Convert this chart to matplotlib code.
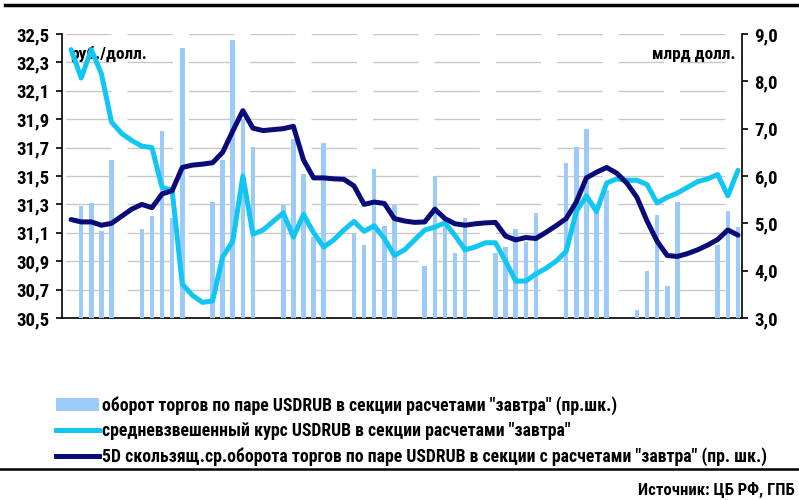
import numpy as np
import pandas as pd
import matplotlib
matplotlib.use("Agg")
from matplotlib import pyplot as plt
from matplotlib.lines import Line2D
from matplotlib.patches import Patch

plt.rcParams['font.family'] = ['Roboto Condensed', 'DejaVu Sans']
plt.rcParams['font.weight'] = 'bold'
plt.rcParams['lines.scale_dashes'] = False

START = "2012-09-03"

# средневзвешенный курс (руб./долл.), каждый день 03.09 - 08.11
line_dates = pd.date_range(START, "2012-11-08")
rate = [32.39, 32.19, 32.39, 32.22, 31.88, 31.80, 31.75, 31.71, 31.70, 31.42,
        31.40, 30.74, 30.66, 30.61, 30.62, 30.93, 31.04, 31.50, 31.09, 31.12,
        31.18, 31.24, 31.07, 31.23, 31.10, 31.00, 31.05, 31.12, 31.18, 31.11,
        31.15, 31.06, 30.94, 30.98, 31.05, 31.12, 31.14, 31.17, 31.08, 30.98,
        31.00, 31.03, 31.03, 30.90, 30.76, 30.76, 30.81, 30.85, 30.90, 30.97,
        31.25, 31.36, 31.25, 31.45, 31.48, 31.47, 31.47, 31.44, 31.31, 31.35,
        31.38, 31.42, 31.46, 31.48, 31.51, 31.36, 31.54]
# 5D скользящее среднее оборота (млрд долл.)
ma5 = [5.08, 5.03, 5.03, 4.96, 5.00, 5.15, 5.30, 5.40, 5.33, 5.62,
       5.69, 6.18, 6.23, 6.25, 6.28, 6.50, 6.95, 7.38, 7.01, 6.96,
       6.98, 7.00, 7.05, 6.34, 5.96, 5.96, 5.94, 5.93, 5.79, 5.40,
       5.45, 5.42, 5.10, 5.05, 5.02, 5.03, 5.30, 5.10, 4.99, 4.96,
       4.99, 5.01, 5.02, 4.73, 4.65, 4.70, 4.68, 4.81, 4.95, 5.10,
       5.45, 5.96, 6.08, 6.18, 6.06, 5.85, 5.55, 5.05, 4.62, 4.32,
       4.30, 4.36, 4.44, 4.54, 4.66, 4.86, 4.75]

# оборот торгов (млрд долл.)
bar_dates = pd.to_datetime([
    "2012-09-04", "2012-09-05", "2012-09-06", "2012-09-07",
    "2012-09-10", "2012-09-11", "2012-09-12", "2012-09-13", "2012-09-14",
    "2012-09-17", "2012-09-18", "2012-09-19", "2012-09-20", "2012-09-21",
    "2012-09-24", "2012-09-25", "2012-09-26", "2012-09-27", "2012-09-28",
    "2012-10-01", "2012-10-02", "2012-10-03", "2012-10-04", "2012-10-05",
    "2012-10-08", "2012-10-09", "2012-10-10", "2012-10-11", "2012-10-12",
    "2012-10-15", "2012-10-16", "2012-10-17", "2012-10-18", "2012-10-19",
    "2012-10-22", "2012-10-23", "2012-10-24", "2012-10-25", "2012-10-26",
    "2012-10-29", "2012-10-30", "2012-10-31", "2012-11-01", "2012-11-02",
    "2012-11-06", "2012-11-07", "2012-11-08"])
volume = [5.37, 5.43, 4.84, 6.34,
          4.88, 5.15, 6.96, 5.11, 8.70,
          5.46, 6.34, 8.87, 7.20, 6.62,
          5.39, 6.78, 6.05, 4.72, 6.70,
          4.77, 4.54, 6.15, 4.94, 5.39,
          4.10, 6.00, 5.07, 4.38, 5.11,
          4.37, 4.50, 4.88, 4.60, 5.22,
          6.27, 6.61, 6.99, 5.28, 5.70,
          3.17, 4.00, 5.17, 3.68, 5.45,
          4.54, 5.26, 4.93]

months = {9: "сен", 10: "окт", 11: "ноя"}
tick_dates = pd.date_range(START, "2012-11-08", freq="3D")

labels = ['оборот торгов по паре USDRUB в секции расчетами "завтра" (пр.шк.)',
          'средневзвешенный курс USDRUB в секции расчетами "завтра"',
          '5D скользящ.ср.оборота торгов по паре USDRUB в секции с расчетами "завтра" (пр. шк.)']

BAR_C = "#9ccbf8"
CYAN = "#12c6f3"
NAVY = "#0a0a78"

t0 = pd.Timestamp(START)
def pos(d):
    return np.asarray((d - t0).days, dtype=float) + 0.5

fig = plt.figure(figsize=(7.99, 5.0), dpi=100)
ax = fig.add_axes([62 / 799, 1 - 318 / 500, 680 / 799, 284 / 500])
ax2 = ax.twinx()   # bars, right scale
ax3 = ax.twinx()   # rate line, left scale
ax4 = ax.twinx()   # 5D line, right scale

ax2.bar(pos(bar_dates), volume, width=0.45, bottom=0, color=BAR_C, zorder=2)
ax3.plot(pos(line_dates), rate, color=CYAN, lw=3.6, solid_joinstyle='round',
         solid_capstyle='round')
ax4.plot(pos(line_dates), ma5, color=NAVY, lw=3.6, solid_joinstyle='round',
         solid_capstyle='round')

for a in (ax, ax2, ax3, ax4):
    a.set_xlim(-0.4, 66.9)
    a.spines['top'].set_visible(False)
for a in (ax, ax3):
    a.set_ylim(30.5, 32.5)
for a in (ax2, ax4):
    a.set_ylim(3.0, 9.0)

left_ticks = np.arange(30.5, 32.51, 0.2)
ax.set_yticks(left_ticks)
ax.set_yticklabels([f"{v:.1f}".replace(".", ",") for v in left_ticks])
right_ticks = np.arange(3.0, 9.01, 1.0)
ax2.set_yticks(right_ticks)
ax2.set_yticklabels([f"{v:.1f}".replace(".", ",") for v in right_ticks])
ax2.set_ylim(3.0, 9.0)

ax.set_xticks(pos(tick_dates) - 0.5)
ax.set_xticklabels([f"{d.day:02d}  {months[d.month]}" for d in tick_dates],
                   rotation=90)

ax.yaxis.grid(True, color="#c8c8c8", lw=1.0,
              linestyle=(41.6, (32.7, 11.5)))
ax.set_axisbelow(True)

for a in (ax3, ax4):
    a.set_yticks([])
    a.set_xticks([])
    for s in a.spines.values():
        s.set_visible(False)
ax2.set_xticks([])
for s in ('left', 'bottom'):
    ax2.spines[s].set_visible(False)
ax.spines['right'].set_visible(False)
for a, names in ((ax, ('left', 'bottom')), (ax2, ('right',))):
    for n in names:
        a.spines[n].set_color("black")
        a.spines[n].set_linewidth(1.2)

ax.tick_params(axis='y', length=4, width=1.2, labelsize=13.5, pad=5)
ax.tick_params(axis='x', length=4, width=1.2, labelsize=14, pad=5)
ax2.tick_params(axis='y', length=4, width=1.2, labelsize=13.5, pad=5)

ax.text(0.012, 0.928, "руб./долл.", transform=ax.transAxes, fontsize=12.5,
        ha='left', va='center')
ax.text(0.99, 0.928, "млрд долл.", transform=ax.transAxes, fontsize=12.5,
        ha='right', va='center')

handles = [Patch(facecolor=BAR_C, edgecolor='none'),
           Line2D([], [], color=CYAN, lw=3.6),
           Line2D([], [], color=NAVY, lw=3.6)]
fig.legend(handles, labels, loc='upper left', bbox_to_anchor=(56 / 799, 1 - 396 / 500),
           frameon=False, fontsize=12.8, handlelength=2.4, handletextpad=0.2,
           labelspacing=0.42, borderaxespad=0, borderpad=0)

fig.add_artist(Line2D([5 / 799, 1], [1 - 4.5 / 500] * 2, color="black", lw=2.5))
fig.add_artist(Line2D([0, 1], [1 - 469 / 500] * 2, color="black", lw=1.8))
fig.text(795 / 799, 1 - 490 / 500, "Источник: ЦБ РФ, ГПБ", ha='right', va='center',
         fontsize=12)

fig.savefig("out.png", dpi=100)
